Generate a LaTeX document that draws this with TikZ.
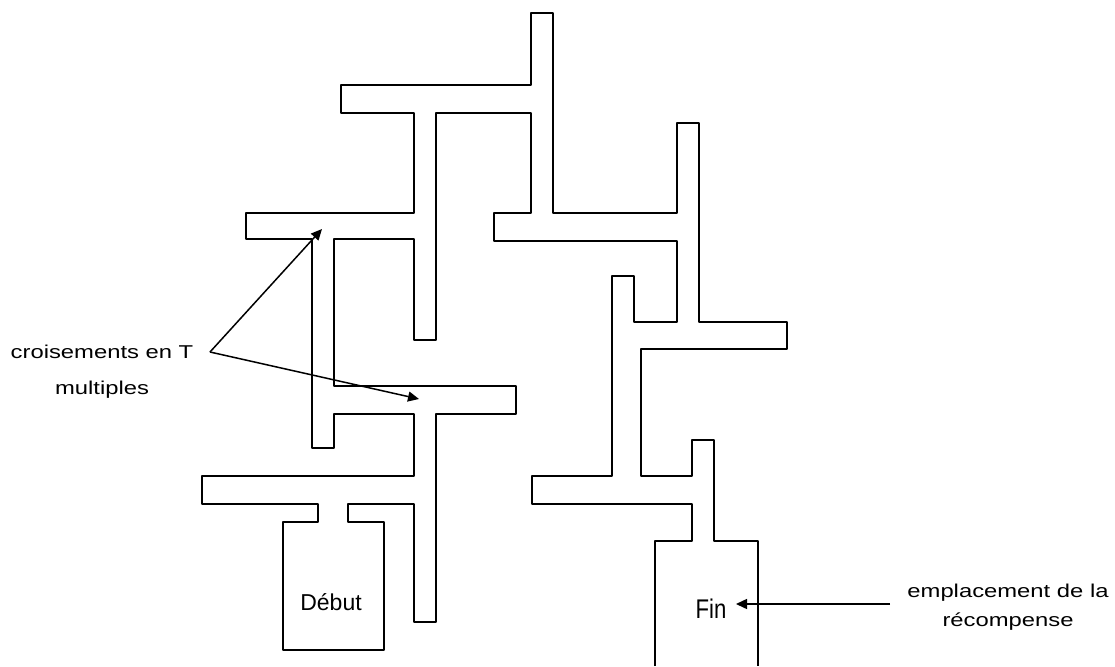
\documentclass[tikz,border=0pt]{standalone}
\usepackage{fontspec}
\setmainfont{Liberation Sans}
\newfontfamily\wideface{Liberation Sans}[FakeStretch=1.28]
\newfontfamily\narrowface{Liberation Sans}[FakeStretch=0.82]
\usepackage{tikz}
\usetikzlibrary{arrows.meta}

\begin{document}
\begin{tikzpicture}[x=1pt,y=-1pt,
      wall/.style={line width=2.5pt,line join=round},
      ptr/.style={-{Triangle[length=11pt,width=10pt]},line width=1.5pt},
      lbl/.style={font=\wideface\fontsize{18.6}{29}\selectfont,align=center,inner sep=0pt},
      room/.style={inner sep=0pt}]
      \useasboundingbox (0,0) rectangle (1115,666);
      % maze walls, one outline from the Fin box round to the Fin box
      \draw[wall] (655,666) -- (655,541) -- (692,541) -- (692,504) -- (532,504) -- (532,476)
        -- (612,476) -- (612,276) -- (634,276) -- (634,322) -- (677,322) -- (677,241)
        -- (494,241) -- (494,213) -- (531,213) -- (531,113) -- (436,113) -- (436,340)
        -- (414,340) -- (414,239) -- (334,239) -- (334,386) -- (516,386) -- (516,414)
        -- (436,414) -- (436,622) -- (414,622) -- (414,504) -- (348,504) -- (348,522)
        -- (384,522) -- (384,650) -- (283,650) -- (283,522) -- (318,522) -- (318,504)
        -- (202,504) -- (202,476) -- (414,476) -- (414,414) -- (334,414) -- (334,448)
        -- (312,448) -- (312,239) -- (246,239) -- (246,213) -- (414,213) -- (414,113)
        -- (341,113) -- (341,85) -- (531,85) -- (531,13) -- (553,13) -- (553,213)
        -- (677,213) -- (677,123) -- (699,123) -- (699,322) -- (787,322) -- (787,349)
        -- (641,349) -- (641,476) -- (692,476) -- (692,440) -- (714,440) -- (714,541)
        -- (758,541) -- (758,666);
      \node[room,font=\fontsize{23}{27}\selectfont] (debut) at (331,602) {Début};
      \node[room,font=\narrowface\fontsize{27}{30}\selectfont] (fin) at (711,609) {Fin};
      \node[lbl] (cross) at (102,372) {croisements en T\\[7pt]multiples};
      \node[lbl] (reward) at (1008,607) {emplacement de la\\récompense};
      \coordinate (fork) at (210,352);
      \coordinate (tjA) at (322,229);
      \coordinate (tjB) at (419,399);
      \coordinate (rstart) at (890,604);
      \coordinate (goal) at (736,604);
      \draw[ptr] (fork) -- (tjA);
      \draw[ptr] (fork) -- (tjB);
      \draw[ptr] (rstart) -- (goal);
    \end{tikzpicture}
\end{document}
